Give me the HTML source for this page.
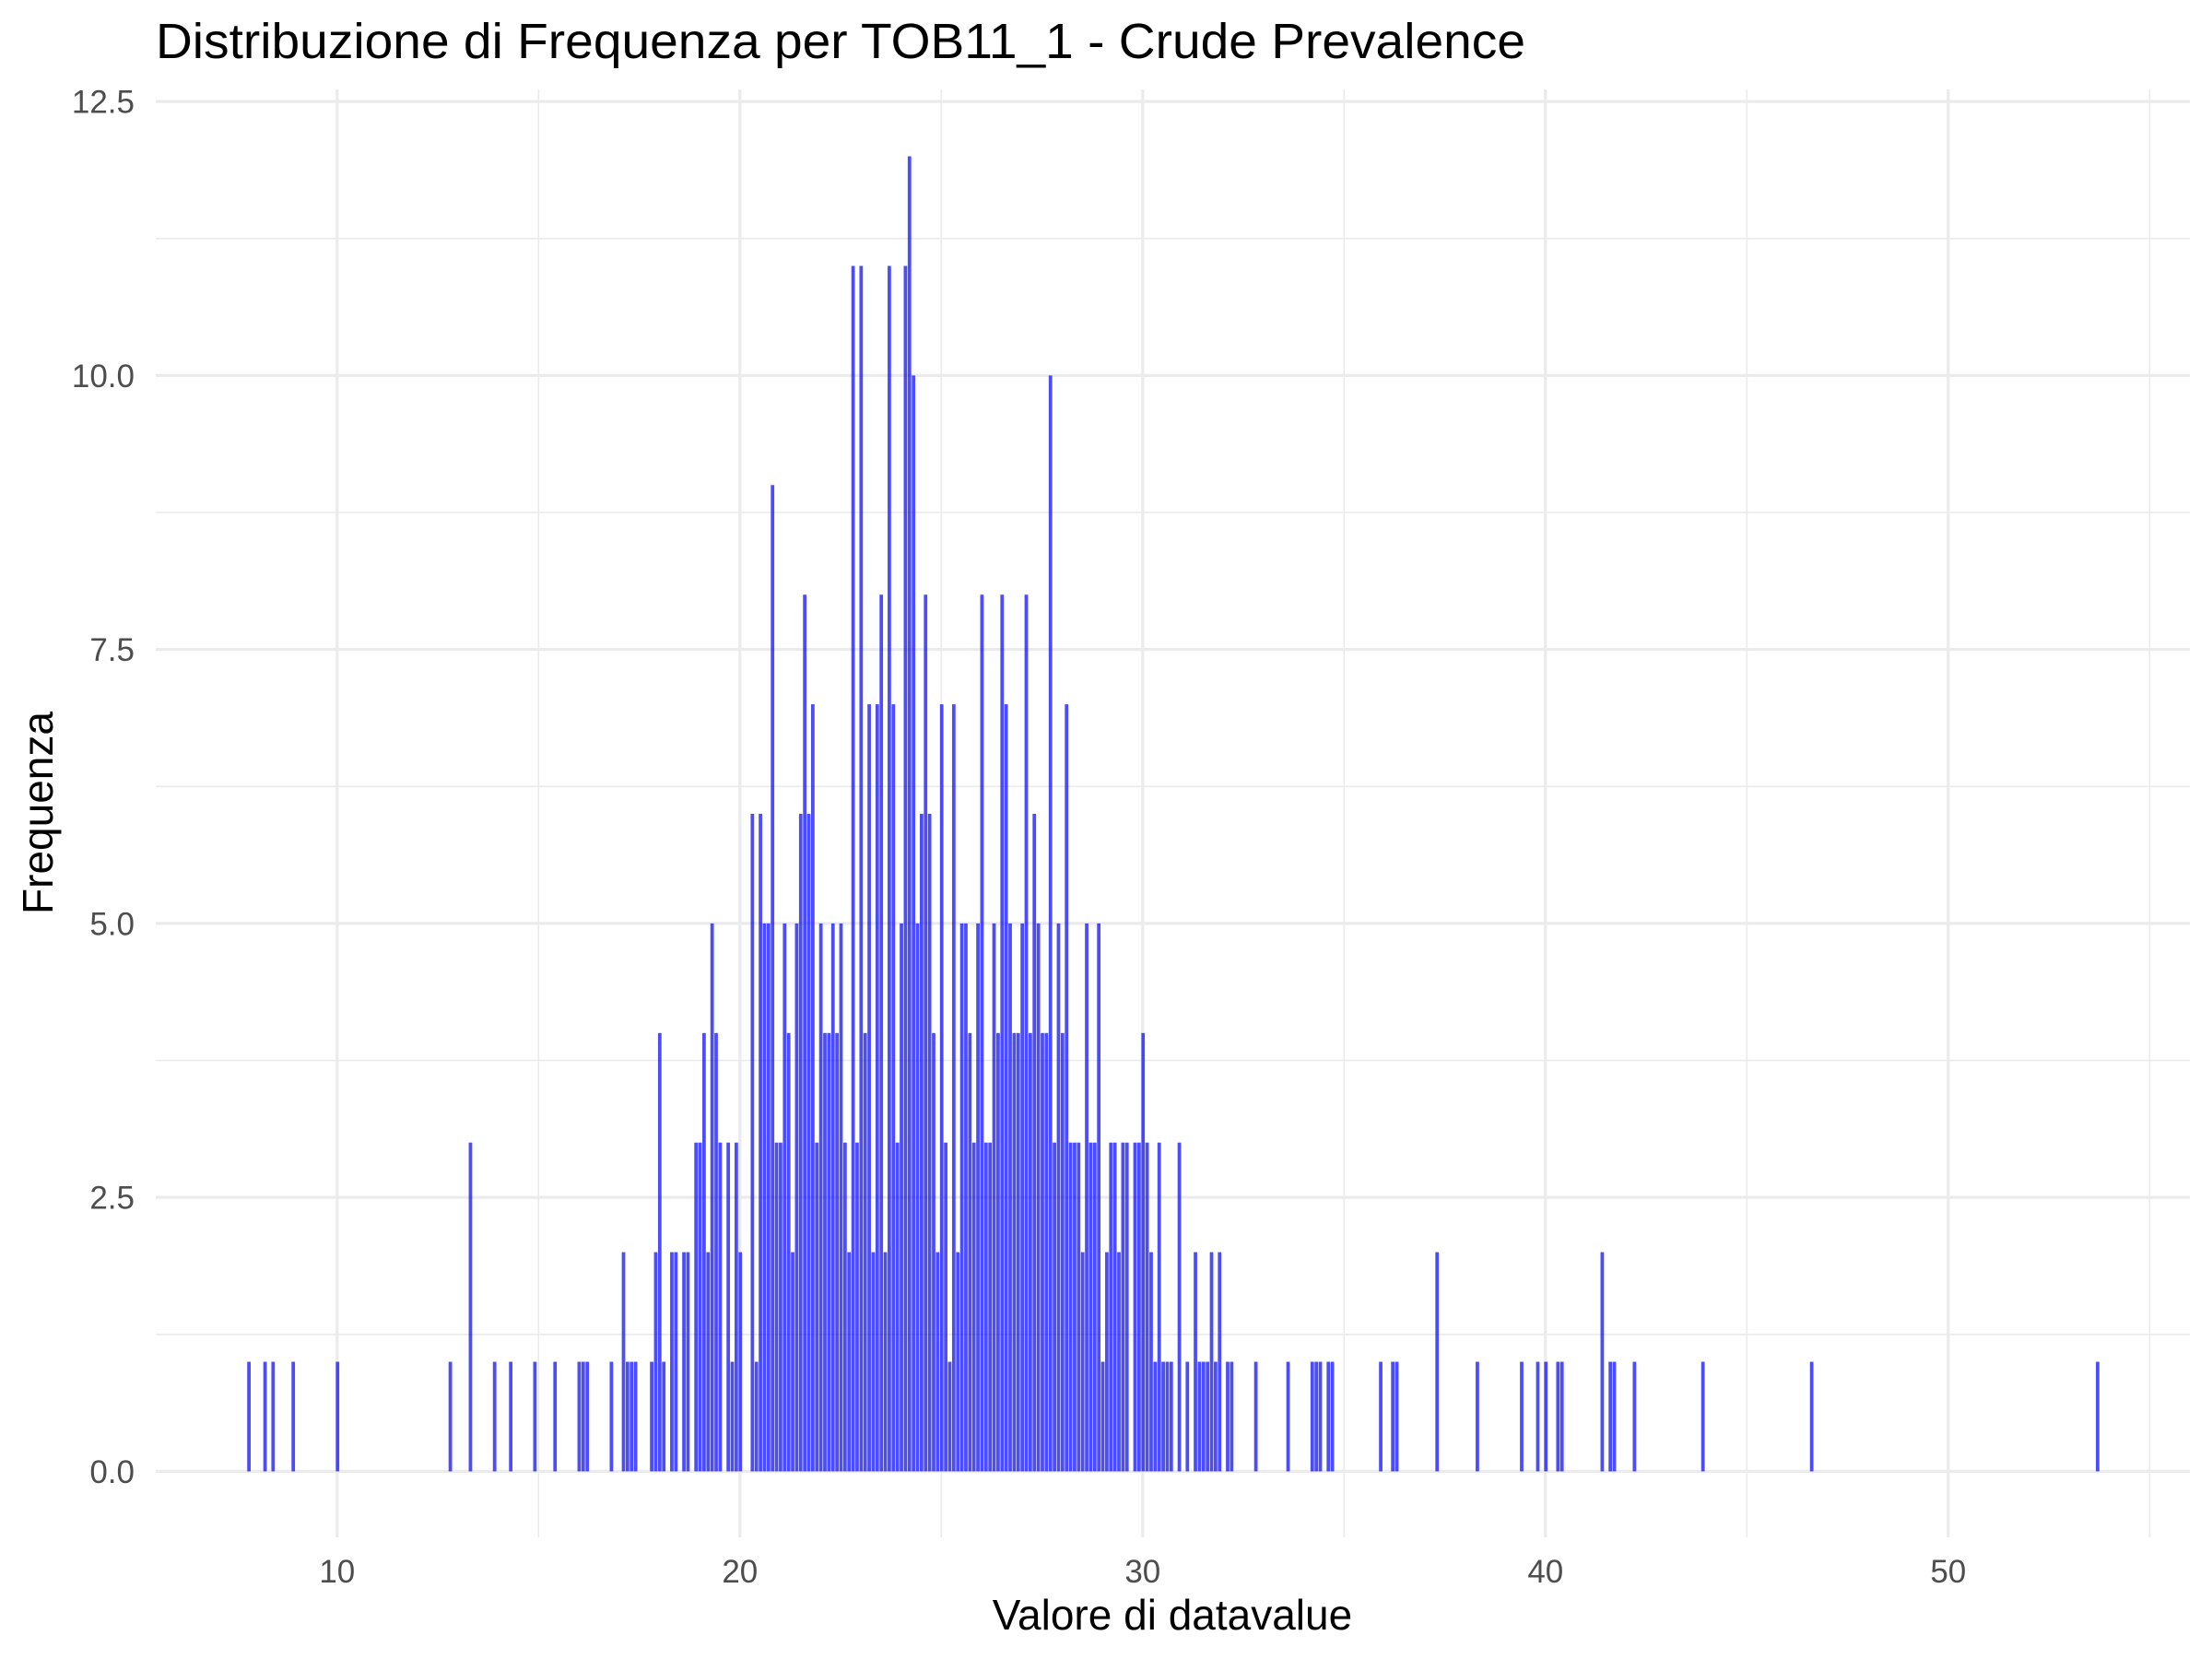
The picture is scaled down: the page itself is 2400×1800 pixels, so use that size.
<!DOCTYPE html>
<html><head><meta charset="utf-8"><style>
html,body{margin:0;padding:0;background:#fff;}
svg{display:block;font-family:"Liberation Sans",sans-serif;}
</style></head><body>
<svg id="chart" width="2400" height="1800" viewBox="0 0 2400 1800" xmlns="http://www.w3.org/2000/svg">
<rect width="2400" height="1800" fill="#fff"/>
<g id="grid"></g>
<g id="bars"></g>
<g id="axes"></g>
<text x="169" y="63" font-size="54" textLength="1486" lengthAdjust="spacingAndGlyphs" fill="#000">Distribuzione di Frequenza per TOB11_1 - Crude Prevalence</text>
<text x="1272" y="1768" font-size="46" fill="#000" text-anchor="middle">Valore di datavalue</text>
<text x="0" y="0" font-size="46" fill="#000" text-anchor="middle" transform="translate(57,882) rotate(-90)">Frequenza</text>
</svg>
<script>
const binValues = [7.8,8.2,8.4,8.9,10.0,12.8,13.3,13.9,14.3,14.9,15.4,16.0,16.1,16.2,16.8,17.1,17.2,17.3,17.4,
17.8,17.9,18.0,18.1,18.3,18.4,18.6,18.7,18.9,19.0,19.1,19.2,19.3,19.4,19.5,19.7,19.8,19.9,20.0,
20.3,20.4,20.5,20.6,20.7,20.8,20.9,21.0,21.1,21.2,21.3,21.4,21.5,21.6,21.7,21.8,21.9,22.0,22.1,22.2,22.3,22.4,
22.5,22.6,22.7,22.8,22.9,23.0,23.1,23.2,23.3,23.4,23.5,23.6,23.7,23.8,23.9,24.0,24.1,24.2,24.3,24.4,24.5,24.6,24.7,24.8,24.9,
25.0,25.1,25.2,25.3,25.4,25.5,25.6,25.7,25.8,25.9,26.0,26.1,26.2,26.3,26.4,26.5,26.6,26.7,26.8,26.9,27.0,27.1,27.2,
27.3,27.4,27.5,27.6,27.7,27.8,27.9,28.0,28.1,28.2,28.3,28.4,28.5,28.6,28.7,28.8,28.9,29.0,29.1,29.2,29.3,29.4,29.5,29.6,
29.8,29.9,30.0,30.1,30.2,30.3,30.4,30.5,30.6,30.7,30.9,31.1,31.3,31.4,31.5,31.6,31.7,31.8,31.9,32.1,32.2,
32.8,33.6,34.2,34.3,34.4,34.6,34.7,35.9,36.2,36.3,37.3,38.3,39.4,39.8,40.0,40.3,40.4,41.4,41.6,41.7,42.2,43.9,46.6,53.7];
const binCounts = [1,1,1,1,1,1,3,1,1,1,1,1,1,1,1,2,1,1,1,
1,2,4,1,2,2,2,2,3,3,4,2,5,4,3,3,1,3,2,
6,1,6,5,5,9,3,3,5,4,2,5,6,8,6,7,3,5,4,4,5,4,
5,3,2,11,3,11,4,7,2,7,8,2,11,7,3,5,11,12,10,5,6,8,6,4,2,
7,3,1,7,2,5,5,4,3,5,8,3,3,5,4,8,7,5,4,4,5,8,4,
6,5,4,4,10,3,5,4,7,3,3,3,2,5,3,3,5,1,2,3,3,2,3,3,
3,3,4,3,2,1,3,1,1,1,3,1,2,1,1,1,2,1,2,1,1,
1,1,1,1,1,1,1,1,1,1,2,1,1,1,1,1,1,2,1,1,1,1,1,1];
const xMajorTicks = [10,20,30,40,50];
const xMinorTicks = [15,25,35,45,55];
const yMajorTicks = [0,2.5,5,7.5,10,12.5];
const yTickLabels = ["0.0","2.5","5.0","7.5","10.0","12.5"];
const yMinorTicks = [1.25,3.75,6.25,8.75,11.25];
const binWidth = 0.1;

const NS = "http://www.w3.org/2000/svg";
const X0 = 365.8, XU = 43.7, Y0 = 1596.4, YU = 118.9;
const PL = 169, PR = 2376, PT = 97, PB = 1668;
function xs(v){ return X0 + (v - 10) * XU; }
function ys(c){ return Y0 - c * YU; }
function mk(tag, attrs, parent){
  const e = document.createElementNS(NS, tag);
  for (const k in attrs) e.setAttribute(k, attrs[k]);
  parent.appendChild(e);
  return e;
}
const grid = document.getElementById('grid');
const bars = document.getElementById('bars');
const axes = document.getElementById('axes');

yMinorTicks.forEach(t => {
  const l = mk('line', {x1:PL, x2:PR, y1:ys(t), y2:ys(t), stroke:'#ebebeb', 'stroke-width':1.6}, grid);
  
  
});
xMinorTicks.forEach(t => {
  const l = mk('line', {x1:xs(t), x2:xs(t), y1:PT, y2:PB, stroke:'#ebebeb', 'stroke-width':1.6}, grid);
  
  
});
yMajorTicks.forEach((t, i) => {
  const l = mk('line', {x1:PL, x2:PR, y1:ys(t), y2:ys(t), stroke:'#ebebeb', 'stroke-width':3.2}, grid);
  
  
  const tx = mk('text', {x:146, y:ys(t)+12.5, 'font-size':35, fill:'#4d4d4d', 'text-anchor':'end'}, axes);
  tx.textContent = yTickLabels[i];
  
  
});
xMajorTicks.forEach(t => {
  const l = mk('line', {x1:xs(t), x2:xs(t), y1:PT, y2:PB, stroke:'#ebebeb', 'stroke-width':3.2}, grid);
  
  
  const tx = mk('text', {x:xs(t), y:1717, 'font-size':35, fill:'#4d4d4d', 'text-anchor':'middle'}, axes);
  tx.textContent = String(t);
  
  
});
binValues.forEach((b, i) => {
  const c = binCounts[i];
  const x1 = xs(b - 0.04), x2 = xs(b - 0.04 + binWidth);
  const r = mk('rect', {x:x1 + 0.3, y:ys(c), width:Math.max(1, x2 - x1 - 0.6), height:ys(0) - ys(c), fill:'#0000ff', 'fill-opacity':0.7}, bars);
  
  
});
</script>
</body></html>
